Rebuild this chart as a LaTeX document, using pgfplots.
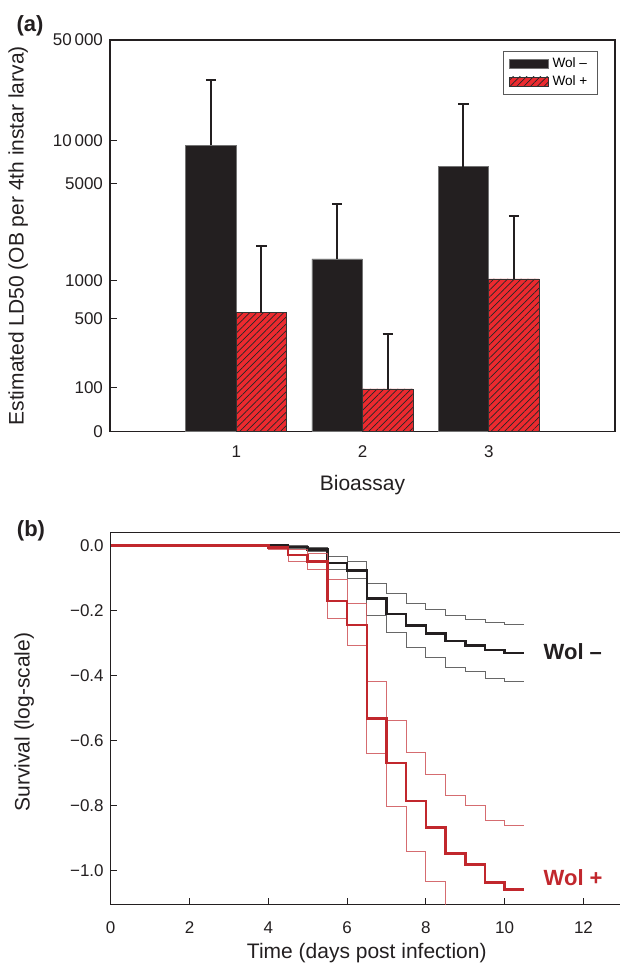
\documentclass[border=0pt]{standalone}
\usepackage{pgfplots}
\pgfplotsset{compat=1.18}
\usepackage{pgfplotstable}
\usepackage{fontspec}
\setmainfont{Liberation Sans}
\usetikzlibrary{patterns.meta}
\definecolor{barblack}{HTML}{231F20}
\definecolor{barred}{HTML}{EC2A2F}
\definecolor{curvered}{HTML}{C1272D}
\definecolor{axcol}{HTML}{231F20}

% LD50 estimates: x, value, upper error bound
\pgfplotstableread{
x v hi
1 9300 26500
2 1450 3630
3 6600 17900
}\wolminus
\pgfplotstableread{
x v hi
1 560 1790
2 97 370
3 1030 2980
}\wolplus

\begin{document}
\begin{tikzpicture}
\useasboundingbox (0,0) rectangle (310pt,481.5pt);
\pgfplotsset{
  common/.style={
    scale only axis,
    tick align=inside, xtick pos=bottom, ytick pos=left,
    major tick length=3.3pt,
    tick style={axcol, line width=0.5pt},
    axis line style={axcol, line width=0.6pt},
    ticklabel style={font=\fontsize{8.5}{10}\selectfont, text=axcol},
    label style={font=\fontsize{10.5}{12}\selectfont, text=axcol},
  }
}
\begin{axis}[common,
  at={(55pt,265.7pt)}, anchor=south west,
  width=252.5pt, height=195.8pt,
  xmin=0, xmax=4, ymin=2, ymax=4.69984,
  xtick={1,2,3}, xticklabels={1,2,3},
  ytick={2,2.30103,2.77815,3.04139,3.70757,4.00432,4.69984},
  yticklabels={0,100,500,1000,5000,10\,000,50\,000},
  xticklabel style={yshift=-3.5pt},
  xlabel={Bioassay},
  xlabel style={at={(axis description cs:0.5,-0.151)}, anchor=base},
  ylabel={Estimated LD50 (OB per 4th instar larva)},
  ylabel style={at={(axis description cs:-0.182,0.5)}, anchor=center},
  legend cell align=left,
  legend style={at={(0.966,0.972)}, anchor=north east, draw=black!65, line width=0.4pt,
    font=\fontsize{6.8}{8}\selectfont, inner xsep=3pt, inner ysep=1pt, row sep=-1.5pt},
  legend image code/.code={\draw[#1] (0pt,-2.4pt) rectangle (19.5pt,2.4pt);},
]
\addplot[ybar, bar width=0.4, bar shift=0pt, fill=barblack, draw=black!55, line width=0.3pt,
  error bars/.cd, y dir=plus, y explicit, error mark=|,
  error bar style={barblack, line width=1pt},
  error mark options={barblack, line width=1pt, mark size=2.6pt}]
  table[x expr={\thisrow{x}-0.2}, y expr={log10(\thisrow{v}+100)},
        y error expr={log10(\thisrow{hi}+100)-log10(\thisrow{v}+100)}] {\wolminus};
\addplot[ybar, bar width=0.4, bar shift=0pt, fill=barred, draw=black!80, line width=0.3pt,
  postaction={pattern={Lines[angle=45,distance=2.4pt,line width=0.35pt]}, pattern color=black!85},
  error bars/.cd, y dir=plus, y explicit, error mark=|,
  error bar style={barblack, line width=1pt},
  error mark options={barblack, line width=1pt, mark size=2.6pt}]
  table[x expr={\thisrow{x}+0.2}, y expr={log10(\thisrow{v}+100)},
        y error expr={log10(\thisrow{hi}+100)-log10(\thisrow{v}+100)}] {\wolplus};
\legend{Wol –, Wol +}
\end{axis}

\begin{axis}[common,
  at={(55.35pt,29.35pt)}, anchor=south west,
  width=256.1pt, height=185.8pt,
  xmin=0, xmax=13, ymin=-1.105, ymax=0.04,
  xtick={0,2,4,6,8,10,12}, xticklabels={0,2,4,6,8,10,12},
  ytick={-1,-0.8,-0.6,-0.4,-0.2,0},
  yticklabels={−1.0,−0.8,−0.6,−0.4,−0.2,0.0},
  xticklabel style={yshift=-5pt},
  xlabel={Time (days post infection)},
  xlabel style={at={(axis description cs:0.5,-0.147)}, anchor=base},
  ylabel={Survival (log-scale)},
  ylabel style={at={(axis description cs:-0.169,0.49)}, anchor=center},
]
% Wol- : upper, lower, centre
\addplot[const plot, black!70, opacity=0.85, line width=0.5pt] coordinates {
(0,0) (4.5,0) (5.0,-0.006) (5.5,-0.033) (6.0,-0.048) (6.5,-0.117) (7.0,-0.148) (7.5,-0.177)
(8.0,-0.198) (8.5,-0.215) (9.0,-0.226) (9.5,-0.236) (10.0,-0.242) (10.5,-0.242)};
\addplot[const plot, black!70, opacity=0.85, line width=0.5pt] coordinates {
(0,0) (4.5,-0.008) (5.0,-0.018) (5.5,-0.072) (6.0,-0.101) (6.5,-0.214) (7.0,-0.267) (7.5,-0.313)
(8.0,-0.345) (8.5,-0.375) (9.0,-0.388) (9.5,-0.409) (10.0,-0.417) (10.5,-0.417)};
\addplot[const plot, barblack, line width=1.25pt] coordinates {
(0,0) (4.5,-0.004) (5.0,-0.012) (5.5,-0.054) (6.0,-0.076) (6.5,-0.163) (7.0,-0.21) (7.5,-0.246)
(8.0,-0.27) (8.5,-0.294) (9.0,-0.307) (9.5,-0.321) (10.0,-0.33) (10.5,-0.33)};
% Wol+ : upper, lower, centre
\addplot[const plot, curvered!80, opacity=0.85, line width=0.5pt] coordinates {
(0,0) (4.0,-0.002) (4.5,-0.012) (5.0,-0.023) (5.5,-0.105) (6.0,-0.177) (6.5,-0.42) (7.0,-0.538)
(7.5,-0.637) (8.0,-0.706) (8.5,-0.77) (9.0,-0.80) (9.5,-0.847) (10.0,-0.862) (10.5,-0.862)};
\addplot[const plot, curvered!80, opacity=0.85, line width=0.5pt] coordinates {
(0,0) (4.0,-0.013) (4.5,-0.048) (5.0,-0.074) (5.5,-0.224) (6.0,-0.309) (6.5,-0.639) (7.0,-0.803)
(7.5,-0.941) (8.0,-1.036) (8.5,-1.5)};
\addplot[const plot, curvered, line width=1.25pt] coordinates {
(0,0) (4.0,-0.006) (4.5,-0.028) (5.0,-0.049) (5.5,-0.17) (6.0,-0.245) (6.5,-0.532) (7.0,-0.67)
(7.5,-0.787) (8.0,-0.868) (8.5,-0.948) (9.0,-0.982) (9.5,-1.038) (10.0,-1.059) (10.5,-1.059)};
\node[anchor=west, inner sep=0pt, font=\bfseries\fontsize{11}{13}\selectfont, text=barblack]
  at (axis cs:10.98,-0.325) {Wol –};
\node[anchor=west, inner sep=0pt, font=\bfseries\fontsize{11}{13}\selectfont, text=curvered]
  at (axis cs:10.98,-1.022) {Wol +};
\end{axis}

\node[font=\bfseries\fontsize{11}{13}\selectfont, text=barblack] at (15pt,468.5pt) {(a)};
\node[font=\bfseries\fontsize{11}{13}\selectfont, text=barblack] at (15.5pt,216pt) {(b)};
\end{tikzpicture}
\end{document}
